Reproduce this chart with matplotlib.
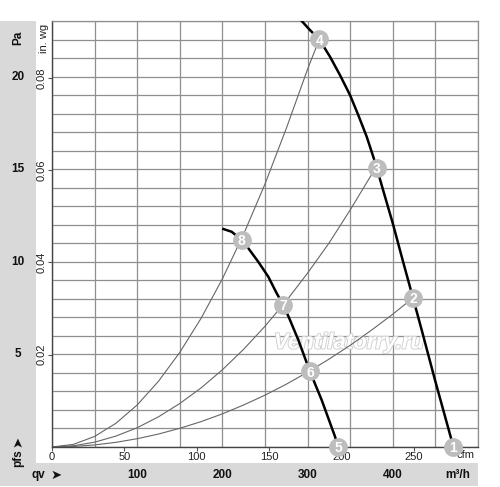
import matplotlib
matplotlib.use('Agg')
import matplotlib.pyplot as plt
import matplotlib.patheffects as pe
from matplotlib.patches import Rectangle
from matplotlib.transforms import blended_transform_factory
import numpy as np

plt.rcParams['font.family'] = ['Liberation Sans', 'DejaVu Sans']

# ---------------- data (flow in m3/h, pressure in Pa) ----------------
fan_hi_q = [293.1, 302.8, 313.7, 326.3, 338.0, 349.8, 359.5, 369.4, 377.1, 381.1, 390.0, 399.9,
            411.5, 423.7, 433.9, 449.5, 471.2]
fan_hi_p = [23.0, 22.51, 22.01, 21.07, 20.08, 19.0, 17.92, 16.75, 15.67, 15.08, 13.65, 12.09,
            10.1, 8.05, 6.32, 3.62, 0.0]

fan_lo_q = [201.1, 210.9, 222.7, 230.4, 242.1, 253.9, 263.7, 271.5, 279.3, 289.1, 302.8, 316.5, 332.2, 335.7]
fan_lo_p = [11.77, 11.62, 11.18, 10.73, 10.00, 9.19, 8.30, 7.67, 6.86, 5.78, 4.07, 2.54, 0.56, 0.0]

sys1_q = [0, 25, 50, 75, 100, 125, 150, 175, 200, 225, 250, 275, 300, 313.7]
sys1_p = [0, 0.14, 0.57, 1.28, 2.27, 3.55, 5.11, 6.95, 9.08, 11.5, 14.2, 17.2, 20.4, 22.01]

sys2_q = [0, 25, 50, 75, 100, 125, 150, 175, 200, 225, 250, 275, 300, 325, 350, 375, 381.1]
sys2_p = [0, 0.065, 0.26, 0.59, 1.04, 1.63, 2.35, 3.19, 4.17, 5.28, 6.52, 7.89, 9.39, 11.0, 12.8, 14.7, 15.08]

sys3_q = [0, 25, 50, 75, 100, 125, 150, 175, 200, 225, 250, 275, 300, 325, 350, 375, 400, 423.7]
sys3_p = [0, 0.028, 0.112, 0.252, 0.448, 0.70, 1.01, 1.37, 1.79, 2.27, 2.80, 3.39, 4.04, 4.74, 5.49, 6.31, 7.17, 8.05]

point_labels = ['1', '2', '3', '4', '5', '6', '7', '8']
point_q = [471.2, 423.7, 381.1, 313.7, 335.7, 302.8, 271.5, 222.7]
point_p = [0.0, 8.05, 15.08, 22.01, 0.0, 4.1, 7.67, 11.18]

qv_ticks = [100, 200, 300, 400]          # m3/h, bottom band
pa_ticks = [5, 10, 15, 20]               # Pa, left band
cfm_ticks = [0, 50, 100, 150, 200, 250]  # cfm
inwg_ticks = [0.02, 0.04, 0.06, 0.08]    # in. wg

M3H_PER_CFM = 1.699
PA_PER_INWG = 249.09

# ---------------- figure ----------------
W, H = 500, 487
fig = plt.figure(figsize=(W / 100, H / 100), dpi=100)
band = '#d9d9d9'
fig.patches.append(Rectangle((0, 1 / H), 36 / W, 465 / H, transform=fig.transFigure,
                             facecolor=band, edgecolor='none', zorder=-5))
fig.patches.append(Rectangle((0, 1 / H), 478 / W, 23 / H, transform=fig.transFigure,
                             facecolor=band, edgecolor='none', zorder=-5))

ax = fig.add_axes([52 / W, 40 / H, 426 / W, 426 / H])
ax.set_xlim(0, 500)
ax.set_ylim(0, 23)
ax.set_xticks(np.arange(0, 501, 50))
ax.set_yticks(np.arange(0, 24, 1))
ax.set_axisbelow(True)
ax.grid(True, color='#8f8f8f', lw=0.9)
ax.tick_params(length=0, labelbottom=False, labelleft=False)
for s in ['top', 'right']:
    ax.spines[s].set_color('#8f8f8f')
    ax.spines[s].set_linewidth(0.9)
for s in ['bottom', 'left']:
    ax.spines[s].set_color('#444444')
    ax.spines[s].set_linewidth(1.0)

# system curves
for q, p in [(sys1_q, sys1_p), (sys2_q, sys2_p), (sys3_q, sys3_p)]:
    ax.plot(q, p, color='#666666', lw=0.8, zorder=2)

# fan curves
ax.plot(fan_hi_q, fan_hi_p, color='black', lw=1.8, zorder=3, solid_joinstyle='round')
ax.plot(fan_lo_q, fan_lo_p, color='black', lw=1.8, zorder=3, solid_joinstyle='round')

# watermark
ax.text(0.697, 0.244, 'Ventilatorry.ru', transform=ax.transAxes, ha='center', va='center',
        fontsize=16, fontweight='bold', fontstyle='italic', color='white', zorder=1.5,
        path_effects=[pe.withStroke(linewidth=1.3, foreground='#cfcfcf')])

# operating points
ax.plot(point_q, point_p, 'o', ms=12.5, color='#bdbdbd', mec='#bdbdbd', zorder=6, clip_on=False)
for lab, q, p in zip(point_labels, point_q, point_p):
    ax.text(q, p, lab, ha='center', va='center_baseline', color='white', fontsize=10,
            fontweight='bold', zorder=7, clip_on=False)

# secondary axes: cfm and in. wg
secx = ax.secondary_xaxis('bottom', functions=(lambda q: np.asarray(q) / M3H_PER_CFM,
                                                lambda c: np.asarray(c) * M3H_PER_CFM))
secx.set_xticks(cfm_ticks)
secx.set_xticklabels([str(c) for c in cfm_ticks])
secx.tick_params(length=3, width=0.8, color='#555555', labelsize=8, pad=0.5, labelcolor='#222222')
secx.spines['bottom'].set_visible(False)

secy = ax.secondary_yaxis('left', functions=(lambda p: np.asarray(p) / PA_PER_INWG,
                                              lambda w: np.asarray(w) * PA_PER_INWG))
secy.set_yticks(inwg_ticks)
secy.set_yticklabels(['%.2f' % w for w in inwg_ticks], rotation=90, va='center')
secy.tick_params(length=3, width=0.8, color='#555555', labelsize=8, pad=1, labelcolor='#222222')
secy.spines['left'].set_visible(False)

ax.text(-0.0188, 0.960, 'in. wg', transform=ax.transAxes, rotation=90, ha='center', va='center',
        fontsize=8, color='#222222')
ax.text(0.9695, -0.0188, 'cfm', transform=ax.transAxes, ha='center', va='center',
        fontsize=8, color='#222222')

# band labels
ty = blended_transform_factory(ax.transAxes, ax.transData)
for v in pa_ticks:
    ax.text(-0.0798, v, str(v), transform=ty, ha='center', va='center', fontsize=8.5,
            fontweight='bold', color='#111111', clip_on=False)
ax.text(-0.0798, 0.960, 'Pa', transform=ax.transAxes, rotation=90, ha='center', va='center',
        fontsize=8.5, fontweight='bold', color='#111111')
ax.text(-0.0798, -0.0258, 'pfs', transform=ax.transAxes, rotation=90, ha='center', va='center',
        fontsize=8.5, fontweight='bold', color='#111111')
ax.text(-0.0798, 0.0141, '➤', transform=ax.transAxes, rotation=90, ha='center', va='center',
        fontsize=9.5, color='#111111', family=['DejaVu Sans'])

tx = blended_transform_factory(ax.transData, ax.transAxes)
for v in qv_ticks:
    ax.text(v, -0.0657, str(v), transform=tx, ha='center', va='center', fontsize=8.5,
            fontweight='bold', color='#111111', clip_on=False)
ax.text(-0.0329, -0.0657, 'qv', transform=ax.transAxes, ha='center', va='center',
        fontsize=8.5, fontweight='bold', color='#111111')
ax.text(0.0094, -0.0657, '➤', transform=ax.transAxes, ha='center', va='center',
        fontsize=9.5, color='#111111', family=['DejaVu Sans'])
ax.text(0.953, -0.0657, 'm³/h', transform=ax.transAxes, ha='center', va='center',
        fontsize=8.5, fontweight='bold', color='#111111')

fig.savefig('out.png', dpi=100)
